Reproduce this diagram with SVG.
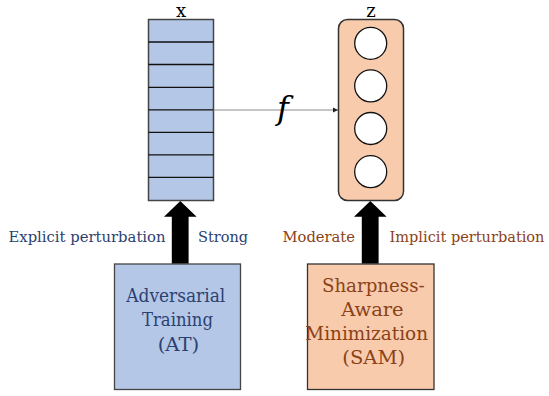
<svg xmlns="http://www.w3.org/2000/svg" width="549" height="396" viewBox="0 0 549 396">
<defs>
<style>
text{font-family:"DejaVu Serif",serif}
.blue{fill:#2B4170}
.brown{fill:#8A4218}
.circ{fill:#fff;stroke:#111;stroke-width:1.3}
.bigarrow{fill:#000}
</style>
<marker id="ah" markerWidth="6" markerHeight="6" refX="5" refY="3" orient="auto" markerUnits="userSpaceOnUse">
<path d="M0,0.5 L5,3 L0,5.5 Z" fill="#222"/>
</marker>
</defs>
<rect width="549" height="396" fill="#fff"/>

<g id="x-vector">
<rect x="148.5" y="19.5" width="65" height="181" fill="#B4C7E7" stroke="#444" stroke-width="1.5"/>
<g stroke="#111" stroke-width="1.3">
<line x1="148.5" y1="42" x2="213.5" y2="42"/>
<line x1="148.5" y1="64.5" x2="213.5" y2="64.5"/>
<line x1="148.5" y1="87.3" x2="213.5" y2="87.3"/>
<line x1="148.5" y1="109.8" x2="213.5" y2="109.8"/>
<line x1="148.5" y1="132.4" x2="213.5" y2="132.4"/>
<line x1="148.5" y1="154.9" x2="213.5" y2="154.9"/>
<line x1="148.5" y1="177.4" x2="213.5" y2="177.4"/>
</g>
<text x="181" y="16.5" font-size="18" text-anchor="middle" fill="#000">x</text>
</g>

<g id="z-vector">
<rect x="338.5" y="19.5" width="65" height="181" rx="9" fill="#F8CBAD" stroke="#333" stroke-width="1.5"/>
<circle class="circ" cx="370.7" cy="43.3" r="16"/>
<circle class="circ" cx="370.7" cy="85.9" r="16"/>
<circle class="circ" cx="370.7" cy="128.5" r="16"/>
<circle class="circ" cx="370.7" cy="171.7" r="16"/>
<text x="371" y="16.5" font-size="18" text-anchor="middle" fill="#000">z</text>
</g>

<g id="at-box">
<rect x="114.5" y="264" width="126" height="125.5" fill="#B4C7E7" stroke="#444" stroke-width="1.3"/>
<text class="blue" font-size="19" text-anchor="middle">
<tspan x="178.8" y="301.5" textLength="99" lengthAdjust="spacingAndGlyphs">Adversarial</tspan>
<tspan x="180.5" y="326" textLength="71" lengthAdjust="spacingAndGlyphs">Training</tspan>
<tspan x="178.5" y="350.5" textLength="41.6" lengthAdjust="spacingAndGlyphs">(AT)</tspan>
</text>
</g>

<g id="sam-box">
<rect x="307.5" y="264" width="126.5" height="125.5" fill="#F8CBAD" stroke="#333" stroke-width="1.3"/>
<text class="brown" font-size="19" text-anchor="middle">
<tspan x="376.3" y="291.5" textLength="102.7" lengthAdjust="spacingAndGlyphs">Sharpness-</tspan>
<tspan x="375.5" y="315.5" textLength="62.4" lengthAdjust="spacingAndGlyphs">Aware</tspan>
<tspan x="369.7" y="339.5" textLength="122.7" lengthAdjust="spacingAndGlyphs">Minimization</tspan>
<tspan x="373.7" y="363.5" textLength="62.7" lengthAdjust="spacingAndGlyphs">(SAM)</tspan>
</text>
</g>

<g id="connectors">
<line x1="213.5" y1="110" x2="338" y2="110" stroke="#8c8c8c" stroke-width="1" marker-end="url(#ah)"/>
<text x="283" y="119" font-size="32" font-style="italic" text-anchor="middle" fill="#000">f</text>
<path class="bigarrow" d="M171.8,263.5 L171.8,216.7 L164,216.7 L180.3,201 L196.6,216.7 L188.6,216.7 L188.6,263.5 Z"/>
<path class="bigarrow" d="M361.8,263.5 L361.8,216.7 L354,216.7 L370.3,201 L386.6,216.7 L378.6,216.7 L378.6,263.5 Z"/>
</g>

<g id="labels">
<text class="blue" x="8.5" y="242" font-size="14.5" textLength="157" lengthAdjust="spacingAndGlyphs">Explicit perturbation</text>
<text class="blue" x="198" y="242" font-size="14.5" textLength="50" lengthAdjust="spacingAndGlyphs">Strong</text>
<text class="brown" x="282.5" y="242" font-size="14.5" textLength="72.5" lengthAdjust="spacingAndGlyphs">Moderate</text>
<text class="brown" x="389.5" y="242" font-size="14.5" textLength="155" lengthAdjust="spacingAndGlyphs">Implicit perturbation</text>
</g>
</svg>
